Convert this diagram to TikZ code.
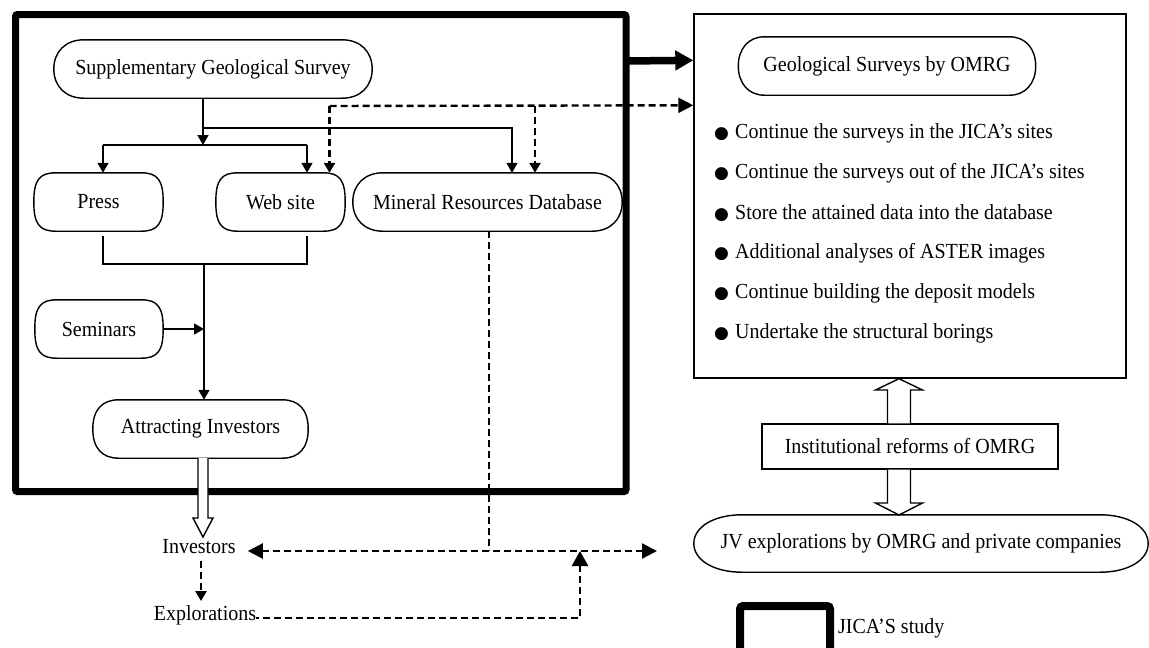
\documentclass[tikz,border=0pt]{standalone}
\usepackage{fontspec}
\setmainfont{Liberation Serif}[FakeStretch=0.93]
\newfontfamily\symfont{DejaVu Sans}
\usetikzlibrary{arrows.meta,calc}
\newcommand\bul{\makebox[21pt][l]{\symfont\fontsize{17}{17}\selectfont ●}}
% stadium outline around a named node: #1 node, #2 end depth, #3 roundness factor
\newcommand\ostad[3]{%
 \draw[shp] let \p1=(#1.north west), \p2=(#1.south east), \p3=(#1.center), \n1={#2}, \n2={(\y1-\y2)/2}, \n3={#3} in
 ({\x1+\n1},\y1) -- ({\x2-\n1},\y1)
 .. controls ({\x2-\n1+\n3*\n1},\y1) and (\x2,{\y3+\n3*\n2}) .. (\x2,\y3)
 .. controls (\x2,{\y3-\n3*\n2}) and ({\x2-\n1+\n3*\n1},\y2) .. ({\x2-\n1},\y2)
 -- ({\x1+\n1},\y2)
 .. controls ({\x1+\n1-\n3*\n1},\y2) and (\x1,{\y3-\n3*\n2}) .. (\x1,\y3)
 .. controls (\x1,{\y3+\n3*\n2}) and ({\x1+\n1-\n3*\n1},\y1) .. cycle;}
\begin{document}
\begin{tikzpicture}[x=1pt,y=-1pt,
  txt/.style={font=\fontsize{21.5}{25}\selectfont, inner sep=0pt},
  stadnode/.style={txt, minimum height=58pt},
  shp/.style={line width=1.4pt},
  ln/.style={line width=1.6pt},
  tip/.style={-{Triangle[length=10pt,width=11pt]}},
  dsh/.style={line width=2.4pt, dash pattern=on 7pt off 4pt},
  dtip/.style={-{Triangle[length=15pt,width=15pt]}},
  hollow/.style={line width=1.4pt, fill=white, line join=miter},
]
\useasboundingbox (0,0) rectangle (1149,648);

% JICA study frame
\draw[line width=7pt, rounded corners=2pt] (15.5,14.5) rectangle (626,491.5);

% left nodes
\node[stadnode, minimum width=318pt] (sgs) at (213,69) {Supplementary Geological Survey};
\node[stadnode, minimum width=129pt] (press) at (98.5,202) {Press};
\node[stadnode, minimum width=129pt] (web) at (280.5,202) {Web site};
\node[stadnode, minimum width=269pt] (mrd) at (487.5,202) {Mineral Resources Database};
\node[stadnode, minimum width=128pt] (sem) at (99,329) {Seminars};
\node[stadnode, minimum width=215pt] (ai) at (200.5,429) {Attracting Investors};
\ostad{sgs}{30}{0.6}
\ostad{press}{22}{0.75}
\ostad{web}{22}{0.75}
\ostad{mrd}{30}{0.6}
\ostad{sem}{22}{0.75}
\ostad{ai}{26}{0.65}

\node[txt] (inv) at (199,547) {Investors};
\node[txt] (expl) at (205,615) {Explorations};

% right side
\node[draw, line width=1.4pt, minimum width=432pt, minimum height=364pt, inner sep=0pt] (rb) at (910,196) {};
\node[stadnode, minimum width=297pt] (gso) at (887,66) {Geological Surveys by OMRG};
\ostad{gso}{26}{0.6}
\node[txt, anchor=west] (b1) at (714,133) {\bul Continue the surveys in the JICA’s sites};
\node[txt, anchor=west] (b2) at (714,173) {\bul Continue the surveys out of the JICA’s sites};
\node[txt, anchor=west] (b3) at (714,213) {\bul Store the attained data into the database};
\node[txt, anchor=west] (b4) at (714,253) {\bul Additional analyses of ASTER images};
\node[txt, anchor=west] (b5) at (714,293) {\bul Continue building the deposit models};
\node[txt, anchor=west] (b6) at (714,333) {\bul Undertake the structural borings};

\node[txt, draw, line width=1.4pt, minimum width=296pt, minimum height=45pt] (inst) at (910,446.5) {Institutional reforms of OMRG};
\node[stadnode, minimum width=454pt, minimum height=57pt] (jv) at (921,543.5) {JV explorations by OMRG and private companies};
\ostad{jv}{48}{0.58}

% legend
\node[draw, line width=8pt, rounded corners=3pt, minimum width=90pt, minimum height=46pt, inner sep=0pt] (leg) at (785,629) {};
\node[txt, anchor=west] (legt) at ($(leg.east)+(4,-1)$) {JICA’S study};

% helper coordinates
\coordinate (s0) at (203,128);
\coordinate (s1) at (203,145);
\coordinate (xm) at (512,128);
\coordinate (pL) at (103,145);
\coordinate (pR) at (307,145);
\coordinate (dL) at (329.5,106);
\coordinate (dR) at (535,106);
\coordinate (bL) at (103,236);
\coordinate (bR) at (307,236);
\coordinate (bm) at (204,264);
\coordinate (ha) at (203,458);
\coordinate (jx) at (489,551);
\coordinate (ex) at (580,551);
\coordinate (ux) at (899,0);

% solid connectors
\draw[ln,tip] (sgs.south -| s1) -- (s1);
\draw[ln,tip] (s0) -| (mrd.north -| xm);
\draw[ln] (pL) -- (pR);
\draw[ln,tip] (pL) -- (press.north -| pL);
\draw[ln,tip] (pR) -- (web.north -| pR);
\draw[ln] (bL) |- (bm) -| (bR);
\draw[ln,tip] (bm) -- (ai.north -| bm);
\draw[ln,tip] (sem.east) -- (sem.east -| bm);

% thick arrow to OMRG surveys
\draw[line width=7.5pt, -{Triangle[length=18pt,width=19pt]}] (626,61) -- ($(rb.north west)+(0,47)$);

% dashed connectors
\draw[dsh,dtip] (dL) -- ($(rb.north west)+(0,92)$);
\draw[dsh,tip] (dL) -- (web.north -| dL);
\draw[dsh,tip] (dR) -- (mrd.north -| dR);
\draw[dsh] (mrd.south -| jx) -- (jx);
\draw[dsh,{Triangle[length=15pt,width=15pt]}-{Triangle[length=15pt,width=15pt]}] ($(inv.east)+(12,4)$) -- (657,551);
\draw[dsh,tip] ($(inv.south)+(2,7)$) -- ($(expl.north)+(-4,-4)$);
\draw[dsh,{Triangle[length=15pt,width=16pt]}-] (ex) |- ($(expl.east)+(0,3)$);

% hollow arrows
\draw[hollow] ($(ha)+(-5,0)$) -- (198,518) -- (193,518) -- (203,537) -- (213,518) -- (208,518) -- ($(ha)+(5,0)$);
\draw[hollow] ($(inst.north)+(-22.5,0)$) -- (887.5,390) -- (875.5,390) -- (rb.south -| ux) -- (922.5,390) -- (910.5,390) -- ($(inst.north)+(0.5,0)$);
\draw[hollow] ($(inst.south)+(-22.5,0)$) -- (887.5,503) -- (875.5,503) -- (899,515) -- (922.5,503) -- (910.5,503) -- ($(inst.south)+(0.5,0)$);
\end{tikzpicture}
\end{document}
